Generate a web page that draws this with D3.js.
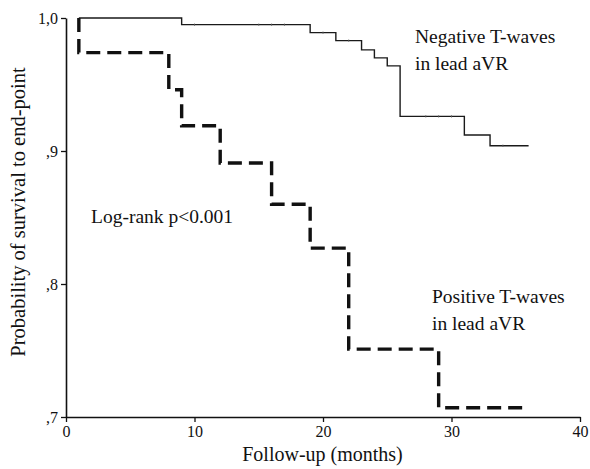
<!DOCTYPE html>
<html>
<head>
<meta charset="utf-8">
<script src="https://cdn.jsdelivr.net/npm/d3@7/dist/d3.min.js"></script>
<style>
  body { margin: 0; background: #fff; }
  text { font-family: "Liberation Serif", "Times New Roman", serif; fill: #111; }
</style>
</head>
<body>
<svg id="chart" width="590" height="469"></svg>
<script>
// Kaplan-Meier steps (months, survival)
var negTimes  = [1, 9, 19, 21, 23, 24, 25, 26, 31, 33, 36];
var negSurv   = [1.0, 0.995, 0.989, 0.983, 0.976, 0.970, 0.964, 0.926, 0.912, 0.904, 0.904];
var negCensor = [10, 15, 16, 17, 20, 22, 28, 29, 30, 34];

var posTimes  = [1, 1, 8, 9, 12, 16, 19, 22, 29, 36];
var posSurv   = [1.0, 0.974, 0.946, 0.919, 0.891, 0.860, 0.827, 0.751, 0.707, 0.707];

var xTicks = [0, 10, 20, 30, 40];
var yTicks = [0.7, 0.8, 0.9, 1.0];
var yTickLabels = [",7", ",8", ",9", "1,0"];

var svg = d3.select("#chart");
var x = d3.scaleLinear().domain([0, 40]).range([66, 580]);
var y = d3.scaleLinear().domain([0.7, 1.0]).range([417, 18]);

// axes
var xAxis = svg.append("g")
    .attr("transform", "translate(0," + y(0.7) + ")")
    .call(d3.axisBottom(x).tickValues(xTicks).tickSize(5).tickSizeOuter(0).tickPadding(4));
var yAxis = svg.append("g")
    .attr("transform", "translate(" + x(0) + ",0)")
    .call(d3.axisLeft(y).tickValues(yTicks).tickSize(5).tickSizeOuter(0).tickPadding(3)
        .tickFormat(function(d, i){ return yTickLabels[i]; }));

[xAxis, yAxis].forEach(function(g){
    g.select(".domain").attr("stroke", "#111").attr("stroke-width", 1.6);
    g.selectAll(".tick line").attr("stroke", "#111").attr("stroke-width", 1.3);
    g.selectAll(".tick text")
        .style("font-family", "Liberation Serif, serif")
        .style("font-size", "16px")
        .attr("fill", "#111");
});
yAxis.selectAll(".tick text").attr("dy", "0.35em");

// step lines
var line = d3.line()
    .x(function(d){ return x(d[0]); })
    .y(function(d){ return y(d[1]); })
    .curve(d3.curveStepAfter);

var negData = d3.zip(negTimes, negSurv);
var posData = d3.zip(posTimes, posSurv);

svg.append("path")
    .attr("d", line(negData))
    .attr("fill", "none")
    .attr("stroke", "#1a1a1a")
    .attr("stroke-width", 1.4);

svg.append("path")
    .attr("d", line(posData))
    .attr("fill", "none")
    .attr("stroke", "#111")
    .attr("stroke-width", 3.4)
    .attr("stroke-dasharray", "14,7");

// censor marks on the negative curve
function survAt(t){
    var s = negSurv[0];
    for(var i = 0; i < negTimes.length; i++){ if(negTimes[i] <= t) s = negSurv[i]; }
    return s;
}
svg.append("g").selectAll("line")
    .data(negCensor)
    .enter()
    .append("line")
    .attr("x1", function(d){ return x(d); })
    .attr("x2", function(d){ return x(d); })
    .attr("y1", function(d){ return y(survAt(d)) - 1; })
    .attr("y2", function(d){ return y(survAt(d)) + 1; })
    .attr("stroke", "#555")
    .attr("stroke-width", 1);

// annotations
function label(tx, ty, lines){
    var t = svg.append("text").attr("x", tx).attr("y", ty).style("font-size", "19.5px");
    lines.forEach(function(s, i){
        t.append("tspan").attr("x", tx).attr("dy", i ? 26.5 : 0).text(s);
    });
}
label(415, 43, ["Negative T-waves", "in lead aVR"]);
label(432, 303, ["Positive T-waves", "in lead aVR"]);
label(91, 223, ["Log-rank p<0.001"]);

// axis titles
svg.append("text")
    .attr("x", 322.5).attr("y", 461)
    .attr("text-anchor", "middle")
    .style("font-size", "20px")
    .text("Follow-up (months)");
svg.append("text")
    .attr("transform", "translate(25,212) rotate(-90)")
    .attr("text-anchor", "middle")
    .style("font-size", "20.5px")
    .text("Probability of survival to end-point");
</script>
</body>
</html>
